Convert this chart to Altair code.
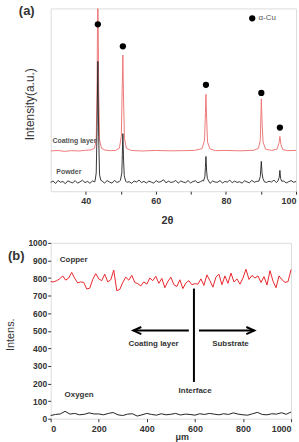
import altair as alt
import numpy as np
import pandas as pd

FONT = "Liberation Sans"
INK = "#333333"

# ---------------- (a) XRD patterns ----------------
# coating layer pattern (offset upward)
coat_tt = [30, 32, 34, 36, 38, 40, 41.5, 42.5, 43.0, 43.25, 43.46, 43.7, 43.95, 44.5,
           45.5, 47, 48.5, 49.6, 50.15, 50.4, 50.6, 50.8, 51.05, 51.6, 53, 56, 60, 64,
           68, 71, 73.2, 73.9, 74.15, 74.3, 74.5, 74.75, 75.4, 77, 80, 84, 88, 89.3,
           89.8, 90.0, 90.1, 90.3, 90.6, 91.3, 93, 94.6, 95.1, 95.4, 95.7, 96.2, 97.5, 100]
coat_int = [22.0, 22.3, 21.8, 22.2, 22.0, 22.4, 22.6, 23.5, 28, 60, 115, 55, 28, 23.5,
            22.5, 22.2, 22.3, 23.5, 30, 55, 74.5, 50, 29, 23.5, 22.3, 22.0, 22.3, 22.1,
            22.2, 22.3, 23.3, 28, 43, 53, 40, 27, 23.2, 22.2, 22.3, 22.1, 22.4, 23.5,
            28, 42, 50.5, 38, 27, 23.0, 22.3, 23.0, 26, 30, 25.5, 22.8, 22.2, 22.3]

# powder pattern: noisy background sampled every 0.7 degree
powder_bg_tt = np.round(np.arange(30, 100.001, 0.7), 2)
powder_bg_int = [4.8, 5.6, 4.2, 5.9, 4.9, 5.3, 4.1, 5.7, 5.0, 4.6,
                 5.8, 4.4, 5.2, 6.0, 4.7, 5.4, 4.3, 5.6, 5.1, 6.2,
                 4.9, 5.5, 4.5, 5.8, 5.0, 4.4, 5.9, 4.8, 5.3, 4.6,
                 5.7, 4.9, 5.2, 4.3, 5.6, 5.0, 6.1, 4.7, 5.4, 4.5,
                 5.5, 5.0, 4.4, 5.8, 4.9, 5.3, 6.3, 4.6, 5.5, 4.8,
                 5.1, 5.9, 4.4, 5.6, 5.0, 4.7, 5.8, 4.5, 5.3, 5.7,
                 4.6, 5.2, 5.9, 4.8, 5.4, 4.3, 5.6, 5.0, 4.9, 5.8,
                 4.5, 5.3, 5.0, 6.0, 4.7, 5.5, 4.8, 5.2, 4.4, 5.7,
                 5.1, 4.6, 5.9, 4.9, 5.4, 4.3, 5.6, 5.2, 4.8, 5.5,
                 5.0, 6.1, 4.7, 5.3, 4.9, 5.6, 4.5, 5.2, 5.8, 4.9,
                 5.3]
# powder reflections
powder_peak_tt = [42.7, 43.0, 43.25, 43.46, 43.7, 43.95, 44.3,
                  49.9, 50.3, 50.45, 50.6, 50.8, 51.0, 51.4,
                  73.6, 74.0, 74.15, 74.3, 74.5, 74.7, 75.1,
                  89.4, 89.8, 89.95, 90.1, 90.3, 90.55, 90.9,
                  94.8, 95.2, 95.4, 95.6, 95.9]
powder_peak_int = [6.0, 10, 35, 71, 30, 9, 6.0,
                   6.0, 10, 20, 31.5, 17, 8.5, 5.5,
                   5.5, 8, 13, 19, 11, 7, 5.5,
                   5.5, 8, 12, 16.3, 10, 7, 5.5,
                   5.5, 7.5, 11.4, 7, 5.5]

# alpha-Cu reflection markers
cu_tt = [43.46, 50.6, 74.3, 90.1, 95.4]
cu_mark = [91.3, 79.3, 58.2, 53.8, 34.8]

# ---------------- (b) line scan ----------------
scan_x = [i * 12.5 for i in range(81)]
copper = [780, 778, 785, 795, 812, 788, 800, 832, 798, 772,
          778, 775, 738, 742, 792, 825, 795, 785, 822, 778,
          790, 845, 728, 735, 775, 805, 788, 815, 775, 768,
          755, 778, 765, 800, 785, 810, 770, 798, 745, 780,
          805, 762, 752, 790, 740, 772, 785, 762, 768, 765,
          795, 758, 818, 785, 748, 805, 822, 762, 812, 770,
          828, 778, 795, 765, 800, 850, 792, 815, 800, 812,
          775, 808, 760, 842, 782, 745, 812, 790, 775, 780,
          848]
oxy_x = [i * 20 for i in range(51)]
oxygen = [18, 24, 27, 42, 26, 30, 22, 25, 33, 27,
          27, 22, 30, 35, 22, 18, 26, 28, 15, 22,
          30, 24, 20, 28, 22, 25, 30, 21, 26, 24,
          20, 28, 24, 30, 26, 22, 28, 24, 33, 26,
          22, 20, 28, 36, 24, 22, 28, 26, 34, 25,
          38]

# ---------------- tables ----------------
coat_df = pd.DataFrame({"tt": coat_tt, "v": coat_int})
bg = pd.DataFrame({"tt": powder_bg_tt, "v": powder_bg_int})
centers = np.array(cu_tt)
keep = np.array([np.min(np.abs(centers - t)) > 0.8 for t in bg["tt"]])
powder_df = (pd.concat([bg[keep], pd.DataFrame({"tt": powder_peak_tt, "v": powder_peak_int})])
             .sort_values("tt").reset_index(drop=True))
marks_df = pd.DataFrame({"tt": cu_tt, "v": cu_mark})
cu_df = pd.DataFrame({"x": scan_x, "y": copper})
o_df = pd.DataFrame({"x": oxy_x, "y": oxygen})
one = pd.DataFrame({"k": [0]})

WA, HA = 247, 184
WB, HB = 242, 177

xa = alt.X("tt:Q", scale=alt.Scale(domain=[30, 100], nice=False, zero=False),
           axis=alt.Axis(values=[40, 50, 60, 70, 80, 90, 100],
                         labelExpr="datum.value % 20 === 0 ? datum.label : ''",
                         format="d", grid=False, domain=False, tickSize=3,
                         tickColor=INK, tickWidth=1, labelPadding=2,
                         labelFont=FONT, labelFontSize=9, labelFontWeight="bold",
                         labelColor=INK, title="2θ", titleFont=FONT,
                         titleFontSize=11, titleFontWeight="bold", titleColor=INK,
                         titleX=117, titleY=30, titleBaseline="middle"))
ya = alt.Y("v:Q", scale=alt.Scale(domain=[0, 100], nice=False),
           axis=alt.Axis(labels=False, ticks=False, domain=False, grid=False,
                         title="Intensity(a.u.)", titleFont=FONT, titleFontSize=12,
                         titleFontWeight="normal", titleColor=INK,
                         titleX=-21, titleY=96, titleBaseline="middle"))

coat_line = alt.Chart(coat_df).mark_line(color="#ee7a7a", strokeWidth=1, clip=True).encode(x=xa, y=ya)
powder_line = alt.Chart(powder_df).mark_line(color="#222222", strokeWidth=0.9).encode(x=xa, y=ya)
dots = alt.Chart(marks_df).mark_point(filled=True, color="black", size=40, opacity=1).encode(x=xa, y=ya)

legend_dot = alt.Chart(pd.DataFrame({"tt": [87.5], "v": [94.6]})).mark_point(
    filled=True, color="black", size=40, opacity=1).encode(x=xa, y=ya)
legend_txt = alt.Chart(pd.DataFrame({"tt": [89.3], "v": [94.6], "t": ["α-Cu"]})).mark_text(
    align="left", baseline="middle", font=FONT, fontSize=8, color="#555555").encode(x=xa, y=ya, text="t:N")
series_txt = alt.Chart(pd.DataFrame({"tt": [30.5, 31.6], "v": [27.2, 10.3],
                                     "t": ["Coating layer", "Powder"]})).mark_text(
    align="left", baseline="middle", font=FONT, fontSize=7, fontWeight="bold",
    color="#555555").encode(x=xa, y=ya, text="t:N")
tag_a = alt.Chart(one).mark_text(align="left", baseline="middle", font=FONT, fontSize=13,
                                 fontWeight="bold", color=INK).encode(
    x=alt.value(-32), y=alt.value(3), text=alt.value("(a)"))
anchor_a = alt.Chart(one).mark_rule(opacity=0).encode(
    x=alt.value(-40), x2=alt.value(-40), y=alt.value(-6), y2=alt.value(HA + 40))

panel_a = alt.layer(coat_line, powder_line, dots, legend_dot, legend_txt, series_txt,
                    tag_a, anchor_a).properties(width=WA, height=HA)

xb = alt.X("x:Q", scale=alt.Scale(domain=[0, 1000], nice=False),
           axis=alt.Axis(values=list(range(0, 1001, 100)),
                         labelExpr="datum.value % 200 === 0 ? datum.label : ''",
                         format="d", grid=False, domain=False, tickSize=3,
                         tickColor=INK, labelPadding=3, labelFont=FONT,
                         labelFontSize=9, labelFontWeight="bold", labelColor=INK,
                         title="μm", titleFont=FONT, titleFontSize=9,
                         titleFontWeight="bold", titleColor=INK,
                         titleX=132, titleY=18, titleBaseline="middle"))
yb = alt.Y("y:Q", scale=alt.Scale(domain=[0, 1000], nice=False),
           axis=alt.Axis(values=list(range(0, 1001, 100)), format="d", grid=False,
                         domain=False, tickSize=3, tickColor=INK, labelPadding=1,
                         labelFont=FONT, labelFontSize=8.5, labelFontWeight="bold",
                         labelColor=INK, title="Intens.", titleFont=FONT,
                         titleFontSize=11, titleFontWeight="normal", titleColor=INK,
                         titleX=-40, titleY=92, titleBaseline="middle"))

cu_line = alt.Chart(cu_df).mark_line(color="#e8262b", strokeWidth=1).encode(x=xb, y=yb)
o_line = alt.Chart(o_df).mark_line(color="#222222", strokeWidth=1).encode(x=xb, y=yb)

# interface marker and direction arrows
arrows_df = pd.DataFrame({"x": [575, 617], "x2": [344, 847], "y": [501, 501]})
arrow_lines = alt.Chart(arrows_df).mark_rule(color="black", strokeWidth=2).encode(
    x=alt.X("x:Q", scale=alt.Scale(domain=[0, 1000])), x2="x2:Q", y=yb)
head_left = alt.Chart(pd.DataFrame({"x": [344], "y": [501]})).mark_point(
    shape="M2,-0.9 L0,0 L2,0.9", size=64, filled=False, color="black",
    strokeWidth=2, opacity=1).encode(x=xb, y=yb)
head_right = alt.Chart(pd.DataFrame({"x": [847], "y": [501]})).mark_point(
    shape="M-2,-0.9 L0,0 L-2,0.9", size=64, filled=False, color="black",
    strokeWidth=2, opacity=1).encode(x=xb, y=yb)
iface = alt.Chart(pd.DataFrame({"x": [596], "y": [209], "y2": [740]})).mark_rule(
    color="black", strokeWidth=2).encode(x=xb, y=yb, y2="y2:Q")

notes_b = alt.Chart(pd.DataFrame({
    "x": [428, 748, 601],
    "y": [424, 424, 158],
    "t": ["Coating layer", "Substrate", "Interface"]})).mark_text(
    align="center", baseline="middle", font=FONT, fontSize=8, fontWeight="bold",
    color=INK).encode(x=xb, y=yb, text="t:N")
names_b = alt.Chart(pd.DataFrame({
    "x": [38, 58], "y": [904, 135], "t": ["Copper", "Oxygen"]})).mark_text(
    align="left", baseline="middle", font=FONT, fontSize=8, fontWeight="bold",
    color=INK).encode(x=xb, y=yb, text="t:N")
tag_b = alt.Chart(one).mark_text(align="left", baseline="middle", font=FONT, fontSize=13,
                                 fontWeight="bold", color=INK).encode(
    x=alt.value(-43), y=alt.value(13), text=alt.value("(b)"))
anchor_b = alt.Chart(one).mark_rule(opacity=0).encode(
    x=alt.value(-50), x2=alt.value(-50), y=alt.value(-10), y2=alt.value(HB + 24))

panel_b = alt.layer(cu_line, o_line, arrow_lines, head_left, head_right, iface,
                    notes_b, names_b, tag_b, anchor_b).properties(width=WB, height=HB)

chart = alt.concat(panel_a, panel_b, columns=1, spacing=0, align="none",
                   bounds="full").properties(padding=0).configure_view(
    stroke=INK, strokeWidth=1.5).configure(font=FONT)

chart.save("out.html", embed_options={"renderer": "svg", "actions": False})
